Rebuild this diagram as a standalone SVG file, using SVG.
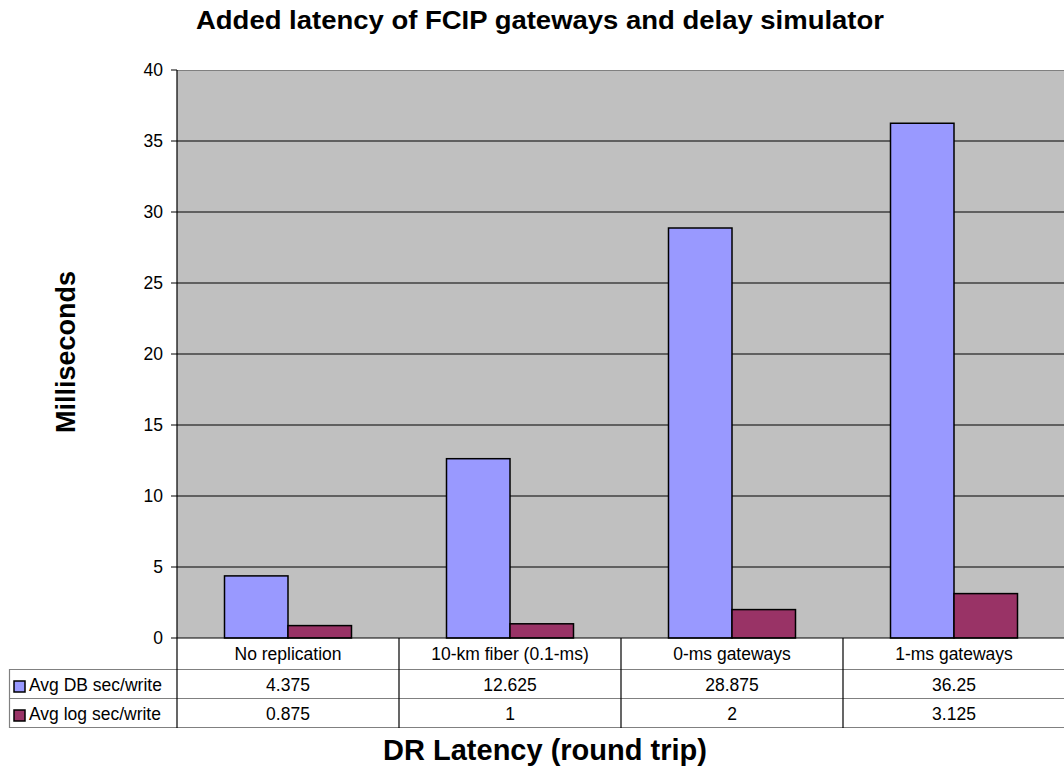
<svg xmlns="http://www.w3.org/2000/svg" width="1064" height="769" viewBox="0 0 1064 769">
<style>
.t{font-family:"Liberation Sans",Arial,sans-serif;font-size:17.5px;fill:#000}
.m{text-anchor:middle}
.e{text-anchor:end}
.b{font-family:"Liberation Sans",Arial,sans-serif;font-weight:bold;fill:#000}
.grid{stroke:#000;stroke-width:1}
.gray{stroke:#808080;stroke-width:1.2}
.blk{stroke:#000;stroke-width:1.2}
.db{fill:#9999FF;stroke:#000;stroke-width:1.5}
.lg{fill:#993366;stroke:#000;stroke-width:1.5}
</style>
<rect width="1064" height="769" fill="#fff"/>
<text class="b m" x="540" y="29" font-size="26" textLength="688" lengthAdjust="spacingAndGlyphs">Added latency of FCIP gateways and delay simulator</text>
<g id="plot-area">
<rect x="177" y="70" width="890" height="568" fill="#C0C0C0"/>
<line class="gray" x1="177" y1="70.5" x2="1064" y2="70.5" stroke-width="2"/>
<g class="grid">
<line x1="171" y1="141" x2="1064" y2="141"/>
<line x1="171" y1="212" x2="1064" y2="212"/>
<line x1="171" y1="283" x2="1064" y2="283"/>
<line x1="171" y1="354" x2="1064" y2="354"/>
<line x1="171" y1="425" x2="1064" y2="425"/>
<line x1="171" y1="496" x2="1064" y2="496"/>
<line x1="171" y1="567" x2="1064" y2="567"/>
<line x1="171" y1="70" x2="177" y2="70"/>
</g>
</g>
<g id="y-axis">
<g class="t e">
<text x="163" y="76">40</text>
<text x="163" y="147">35</text>
<text x="163" y="218">30</text>
<text x="163" y="289">25</text>
<text x="163" y="360">20</text>
<text x="163" y="431">15</text>
<text x="163" y="502">10</text>
<text x="163" y="573">5</text>
<text x="163" y="644">0</text>
</g>
<text class="b m" font-size="27" transform="translate(75,352) rotate(-90)">Milliseconds</text>
</g>
<g id="bars">
<rect class="db" x="224.5" y="575.9" width="63.5" height="62.1"/>
<rect class="lg" x="288" y="625.6" width="63.5" height="12.4"/>
<rect class="db" x="446.5" y="458.7" width="63.5" height="179.3"/>
<rect class="lg" x="510" y="623.8" width="63.5" height="14.2"/>
<rect class="db" x="668.5" y="228" width="63.5" height="410"/>
<rect class="lg" x="732" y="609.6" width="63.5" height="28.4"/>
<rect class="db" x="890.5" y="123.25" width="63.5" height="514.75"/>
<rect class="lg" x="954" y="593.6" width="63.5" height="44.4"/>
</g>
<g id="data-table">
<line class="gray" x1="9.5" y1="669.5" x2="1064" y2="669.5"/>
<line class="gray" x1="9.5" y1="698.5" x2="1064" y2="698.5"/>
<line class="gray" x1="9.5" y1="727.5" x2="1064" y2="727.5"/>
<line class="gray" x1="9.5" y1="669" x2="9.5" y2="728"/>
<line class="blk" x1="177" y1="70" x2="177" y2="728"/>
<line class="blk" x1="171" y1="638" x2="1064" y2="638"/>
<line class="blk" x1="399" y1="638" x2="399" y2="728"/>
<line class="blk" x1="621" y1="638" x2="621" y2="728"/>
<line class="blk" x1="843" y1="638" x2="843" y2="728"/>
<g class="t m">
<text x="288" y="660">No replication</text>
<text x="510" y="660">10-km fiber (0.1-ms)</text>
<text x="732" y="660">0-ms gateways</text>
<text x="954" y="660">1-ms gateways</text>
<text x="288" y="691">4.375</text>
<text x="510" y="691">12.625</text>
<text x="732" y="691">28.875</text>
<text x="954" y="691">36.25</text>
<text x="288" y="720">0.875</text>
<text x="510" y="720">1</text>
<text x="732" y="720">2</text>
<text x="954" y="720">3.125</text>
</g>
<rect class="db" x="14" y="681" width="11" height="11" stroke-width="1.2"/>
<rect class="lg" x="14" y="710" width="11" height="11" stroke-width="1.2"/>
<text class="t" x="29" y="691">Avg DB sec/write</text>
<text class="t" x="29" y="720">Avg log sec/write</text>
</g>
<text class="b m" x="545" y="760" font-size="29">DR Latency (round trip)</text>
</svg>
